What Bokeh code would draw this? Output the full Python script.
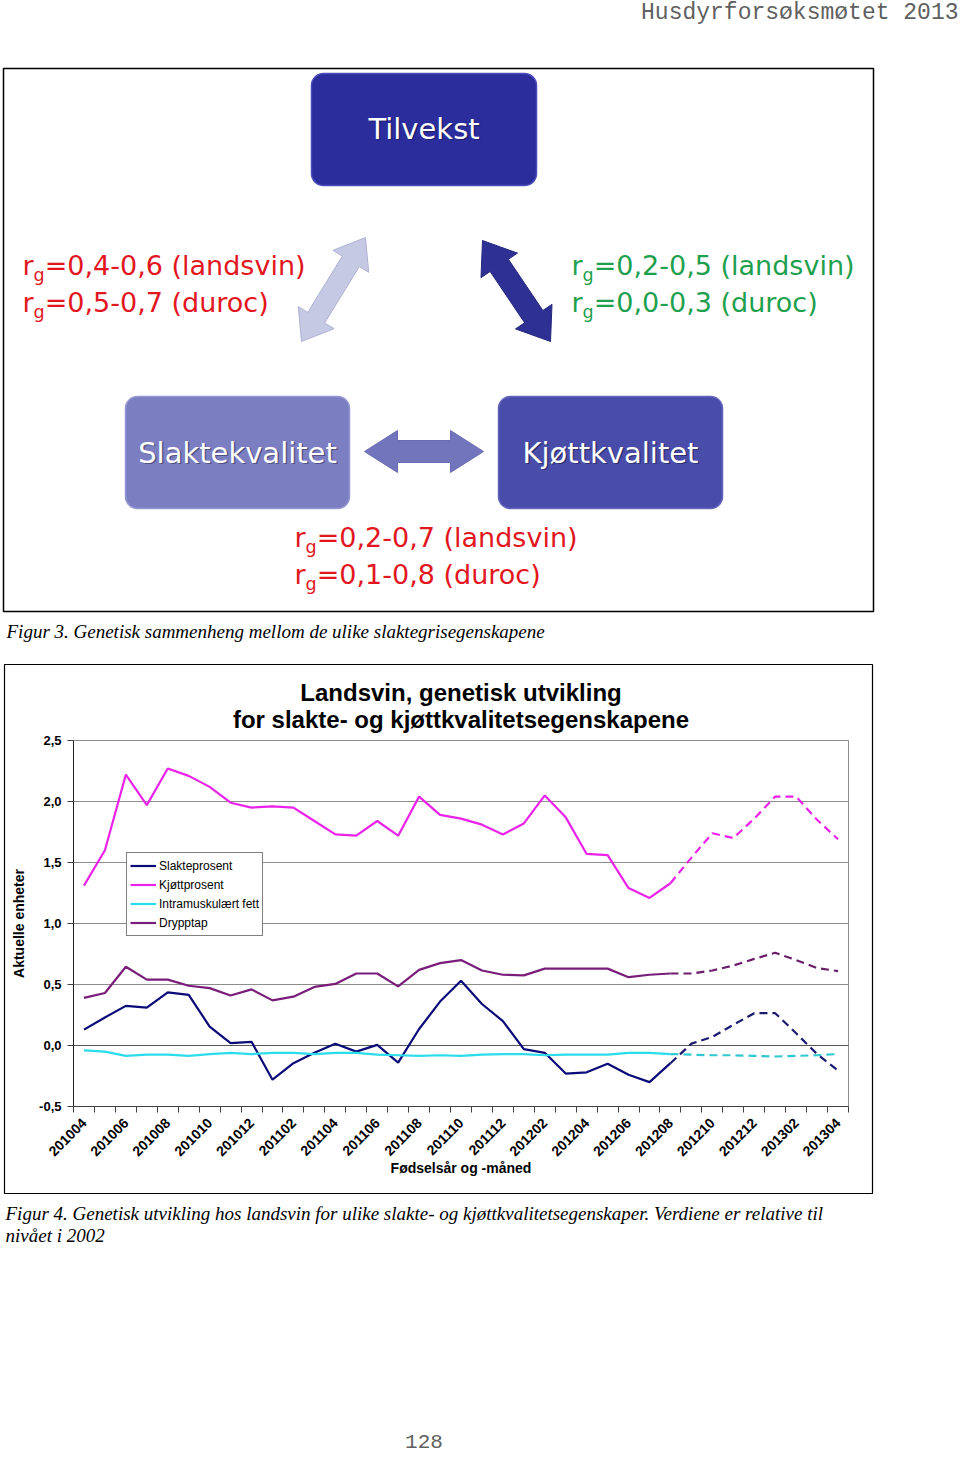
import math
from bokeh.plotting import figure
from bokeh.models import (Range1d, BoxAnnotation, FixedTicker, CustomJSTickFormatter,
                          Legend, LegendItem, LinearAxis)
from bokeh.core.properties import value
from bokeh.embed import file_html
from bokeh.resources import INLINE

# ---------------- chart data (Figur 4) ----------------
months = ["201004", "201005", "201006", "201007", "201008", "201009", "201010", "201011",
          "201012", "201101", "201102", "201103", "201104", "201105", "201106", "201107",
          "201108", "201109", "201110", "201111", "201112", "201201", "201202", "201203",
          "201204", "201205", "201206", "201207", "201208", "201209", "201210", "201211",
          "201212", "201301", "201302", "201303", "201304"]
slakteprosent = [0.13, 0.23, 0.325, 0.31, 0.435, 0.415, 0.155, 0.02, 0.03, -0.28, -0.145,
                 -0.06, 0.015, -0.05, 0.005, -0.14, 0.135, 0.36, 0.53, 0.34, 0.20, -0.03,
                 -0.06, -0.23, -0.22, -0.15, -0.24, -0.30, -0.145, 0.015, 0.07, 0.17, 0.265,
                 0.265, 0.10, -0.07, -0.205]
kjottprosent = [1.31, 1.60, 2.22, 1.97, 2.27, 2.21, 2.12, 1.99, 1.95, 1.96, 1.95, 1.84, 1.73,
                1.72, 1.84, 1.72, 2.04, 1.89, 1.86, 1.81, 1.73, 1.82, 2.05, 1.87, 1.57, 1.56,
                1.29, 1.21, 1.33, 1.54, 1.74, 1.70, 1.86, 2.04, 2.04, 1.85, 1.69]
intramuskulaert_fett = [-0.04, -0.05, -0.085, -0.075, -0.075, -0.085, -0.07, -0.06, -0.07,
                        -0.06, -0.06, -0.07, -0.06, -0.06, -0.075, -0.08, -0.085, -0.08,
                        -0.085, -0.075, -0.07, -0.07, -0.08, -0.075, -0.075, -0.075, -0.06,
                        -0.06, -0.07, -0.075, -0.08, -0.08, -0.085, -0.09, -0.085, -0.08, -0.07]
drypptap = [0.39, 0.43, 0.645, 0.54, 0.54, 0.49, 0.47, 0.41, 0.46, 0.37, 0.40, 0.48, 0.505,
            0.59, 0.59, 0.485, 0.62, 0.675, 0.70, 0.615, 0.58, 0.575, 0.63, 0.63, 0.63, 0.63,
            0.56, 0.58, 0.59, 0.59, 0.615, 0.655, 0.71, 0.76, 0.70, 0.635, 0.61]
series_names = ["Slakteprosent", "Kjøttprosent", "Intramuskulært fett", "Drypptap"]
series_values = [slakteprosent, kjottprosent, intramuskulaert_fett, drypptap]
series_colors = ["#0A0A78", "#EA22EA", "#2ADCEC", "#7A1C7A"]
dashed_colors = ["#1A1A70", "#EA22EA", "#30C8D0", "#6A1E6A"]
forecast_from = "201208"
y_ticks = [-0.5, 0.0, 0.5, 1.0, 1.5, 2.0, 2.5]
chart_title = ["Landsvin, genetisk utvikling", "for slakte- og kjøttkvalitetsegenskapene"]
x_label = "Fødselsår og -måned"
y_label = "Aktuelle enheter"

# ---------------- diagram content (Figur 3) ----------------
header_text = "Husdyrforsøksmøtet 2013"
box_labels = ["Tilvekst", "Slaktekvalitet", "Kjøttkvalitet"]
box_left = [311, 125, 498]
box_right = [536, 349, 722]
box_top = [73, 396, 396]
box_bottom = [185, 508, 508]
box_fill = ["#2B2D9D", "#7C7EC2", "#4A4CA9"]
box_line = ["#4A4CB8", "#9597D2", "#6365BD"]
box_text_y = [128, 452, 452]

rg_texts = ["=0,4-0,6 (landsvin)", "=0,5-0,7 (duroc)",
            "=0,2-0,5 (landsvin)", "=0,0-0,3 (duroc)",
            "=0,2-0,7 (landsvin)", "=0,1-0,8 (duroc)"]
rg_x = [22, 22, 571, 571, 294, 294]
rg_y = [265, 302, 265, 302, 537, 574]
rg_colors = ["#E2161E", "#E2161E", "#1FA04E", "#1FA04E", "#E2161E", "#E2161E"]

# arrows: (x1, y1, x2, y2, shaft width, head width, head length)
arrows = [(301, 341, 365, 237, 20, 42, 28),
          (482, 240, 550, 341, 22, 44, 30),
          (364, 451, 483, 451, 22, 42, 33)]
arrow_fill = ["#C6C9E3", "#2E3193", "#7375BC"]
arrow_line = ["#AEB1D3", "#26287E", "#6A6CB4"]

caption3 = "Figur 3. Genetisk sammenheng mellom de ulike slaktegrisegenskapene"
caption4 = ["Figur 4. Genetisk utvikling hos landsvin for ulike slakte- og kjøttkvalitetsegenskaper. Verdiene er relative til",
            "nivået i 2002"]
page_number = "128"

# ---------------- page geometry (pixels) ----------------
W, H = 960, 1460
PLOT_L, PLOT_R, PLOT_T, PLOT_B = 73, 848, 740, 1106      # chart plot area
BOX4 = (4, 872, 664, 1193)                               # chart frame box
BOX3 = (3, 873, 68, 611)                                 # diagram frame box


def double_arrow(x1, y1, x2, y2, shaft, head_w, head_len):
    dx, dy = x2 - x1, y2 - y1
    L = math.hypot(dx, dy)
    ux, uy = dx / L, dy / L
    nx, ny = -uy, ux

    def pt(t, s):
        return (x1 + ux * t + nx * s, y1 + uy * t + ny * s)
    pts = [pt(0, 0), pt(head_len, head_w / 2), pt(head_len, shaft / 2),
           pt(L - head_len, shaft / 2), pt(L - head_len, head_w / 2), pt(L, 0),
           pt(L - head_len, -head_w / 2), pt(L - head_len, -shaft / 2),
           pt(head_len, -shaft / 2), pt(head_len, -head_w / 2)]
    return [q[0] for q in pts], [q[1] for q in pts]


p = figure(width=W, height=H, x_range=Range1d(0, W), y_range=Range1d(H, 0),
           output_backend="svg", toolbar_location=None, min_border=0, title=None,
           x_axis_location=None, y_axis_location=None)
p.grid.visible = False
p.outline_line_color = None
p.background_fill_color = "white"
p.border_fill_color = "white"

# chart coordinate system mapped onto the plot area
n = len(months)
x0c, x1c = -0.5, n - 0.5
y0c, y1c = y_ticks[0], y_ticks[-1]
kx = (x1c - x0c) / (PLOT_R - PLOT_L)
ky = (y1c - y0c) / (PLOT_B - PLOT_T)
p.extra_x_ranges = {"chart": Range1d(x0c - PLOT_L * kx, x1c + (W - PLOT_R) * kx)}
p.extra_y_ranges = {"chart": Range1d(y0c - (H - PLOT_B) * ky, y1c + PLOT_T * ky)}
C = dict(x_range_name="chart", y_range_name="chart")

# ================= header & Figur 3 =================
p.text(x=[958], y=[12], text=[header_text], text_font=value("Liberation Mono"),
       text_font_size="23px", text_align="right", text_baseline="alphabetic",
       text_color="#606060")
p.quad(left=[BOX3[0]], right=[BOX3[1]], top=[BOX3[2]], bottom=[BOX3[3]], fill_color=None,
       line_color="black", line_width=1.5)

for i in range(len(box_labels)):
    p.add_layout(BoxAnnotation(left=box_left[i], right=box_right[i], top=box_top[i],
                               bottom=box_bottom[i], border_radius=12,
                               fill_color=box_fill[i], fill_alpha=1.0,
                               line_color=box_line[i], line_alpha=1.0, line_width=1.5,
                               level="underlay"))

axs, ays = [], []
for a in arrows:
    ax_, ay_ = double_arrow(*a)
    axs.append(ax_)
    ays.append(ay_)
p.patches(xs=axs, ys=ays, fill_color=arrow_fill, line_color=arrow_line, line_width=1)

box_cx = [(l + r) / 2 for l, r in zip(box_left, box_right)]
p.text(x=[c + 1.5 for c in box_cx], y=[y + 1.5 for y in box_text_y], text=box_labels,
       text_font=value("DejaVu Sans"), text_font_size="29px", text_align="center",
       text_baseline="alphabetic", text_color="#000000", text_alpha=0.35)
p.text(x=box_cx, y=box_text_y, text=box_labels, text_font=value("DejaVu Sans"),
       text_font_size="29px", text_align="center", text_baseline="alphabetic",
       text_color="white")

p.text(x=rg_x, y=rg_y, text=["r"] * len(rg_x), text_font=value("DejaVu Sans"),
       text_font_size="27px", text_align="left", text_baseline="alphabetic",
       text_color=rg_colors)
p.text(x=[x + 11.1 for x in rg_x], y=[y + 9 for y in rg_y], text=["g"] * len(rg_x),
       text_font=value("DejaVu Sans"), text_font_size="17.5px", text_align="left",
       text_baseline="alphabetic", text_color=rg_colors)
p.text(x=[x + 22.2 for x in rg_x], y=rg_y, text=rg_texts, text_font=value("DejaVu Sans"),
       text_font_size="27px", text_align="left", text_baseline="alphabetic",
       text_color=rg_colors)

p.text(x=[6], y=[631], text=[caption3], text_font=value("Liberation Serif"),
       text_font_size="19px", text_font_style="italic", text_align="left",
       text_baseline="alphabetic", text_color="black")

# ================= Figur 4 chart =================
p.quad(left=[BOX4[0]], right=[BOX4[1]], top=[BOX4[2]], bottom=[BOX4[3]], fill_color=None,
       line_color="black", line_width=1.2)
p.text(x=[(PLOT_L + PLOT_R) / 2] * 2, y=[692, 719], text=chart_title,
       text_font=value("Liberation Sans"), text_font_size="24px", text_font_style="bold",
       text_align="center", text_baseline="alphabetic", text_color="black")

xs = list(range(n))
fi = months.index(forecast_from)

# horizontal gridlines and right border of the plot area
grid_y = y_ticks[1:]
p.segment(x0=[x0c] * len(grid_y), x1=[x1c] * len(grid_y), y0=grid_y, y1=grid_y,
          line_color="#8C8C8C", line_width=1, **C)
p.segment(x0=[x1c], x1=[x1c], y0=[y0c], y1=[y1c], line_color="#8C8C8C", line_width=1, **C)
p.segment(x0=[x0c], x1=[x1c], y0=[0], y1=[0], line_color="#555555", line_width=1, **C)

items = []
for name, vals, col, dcol in zip(series_names, series_values, series_colors, dashed_colors):
    r = p.line(xs[:fi + 1], vals[:fi + 1], line_color=col, line_width=2.2, **C)
    p.line(xs[fi:], vals[fi:], line_color=dcol, line_width=2.2, line_dash="8 5", **C)
    items.append(LegendItem(label=name, renderers=[r]))

legend = Legend(items=items, location=(126, H - 936), margin=0, padding=3, spacing=0,
                glyph_width=26, glyph_height=19, label_height=19, label_standoff=3,
                label_text_font="Liberation Sans", label_text_font_size="12px",
                label_text_color="black", border_line_color="black", border_line_width=1,
                background_fill_color="white", background_fill_alpha=1.0)
p.add_layout(legend)

xaxis = LinearAxis(fixed_location=y0c, bounds=(x0c, x1c), **C,
                   ticker=FixedTicker(ticks=xs[::2], minor_ticks=[x - 0.5 for x in range(n + 1)]),
                   formatter=CustomJSTickFormatter(args=dict(labels=months),
                                                   code="return labels[Math.round(tick)] || '';"))
xaxis.major_label_orientation = math.pi / 4
xaxis.major_tick_out = 0
xaxis.major_tick_in = 0
xaxis.minor_tick_out = 6
xaxis.minor_tick_in = 0
xaxis.minor_tick_line_color = "#404040"
xaxis.major_label_standoff = 8
xaxis.axis_line_color = "#404040"
xaxis.major_label_text_font = "Liberation Sans"
xaxis.major_label_text_font_size = "14px"
xaxis.major_label_text_font_style = "bold"
xaxis.major_label_text_color = "black"
xaxis.axis_label = x_label
xaxis.axis_label_text_font = "Liberation Sans"
xaxis.axis_label_text_font_size = "14px"
xaxis.axis_label_text_font_style = "bold"
xaxis.axis_label_text_color = "black"
xaxis.axis_label_standoff = -4
p.add_layout(xaxis, "below")

yaxis = LinearAxis(fixed_location=x0c, bounds=(y0c, y1c), **C,
                   ticker=FixedTicker(ticks=y_ticks, minor_ticks=[]),
                   formatter=CustomJSTickFormatter(code="return tick.toFixed(1).replace('.', ',');"))
yaxis.major_tick_out = 6
yaxis.major_tick_in = 0
yaxis.minor_tick_line_color = None
yaxis.major_tick_line_color = "#404040"
yaxis.axis_line_color = "#202020"
yaxis.major_label_standoff = 6
yaxis.major_label_text_font = "Liberation Sans"
yaxis.major_label_text_font_size = "13px"
yaxis.major_label_text_font_style = "bold"
yaxis.major_label_text_color = "black"
yaxis.axis_label = y_label
yaxis.axis_label_text_font = "Liberation Sans"
yaxis.axis_label_text_font_size = "14px"
yaxis.axis_label_text_font_style = "bold"
yaxis.axis_label_text_color = "black"
yaxis.axis_label_standoff = 9
p.add_layout(yaxis, "left")

# ================= captions & page number =================
p.text(x=[5, 5], y=[1213, 1235], text=caption4, text_font=value("Liberation Serif"),
       text_font_size="19px", text_font_style="italic", text_align="left",
       text_baseline="alphabetic", text_color="black")
p.text(x=[423.5], y=[1441], text=[page_number], text_font=value("Liberation Mono"),
       text_font_size="21px", text_align="center", text_baseline="alphabetic",
       text_color="#606060")

open("out.html", "w").write(file_html(p, INLINE))
